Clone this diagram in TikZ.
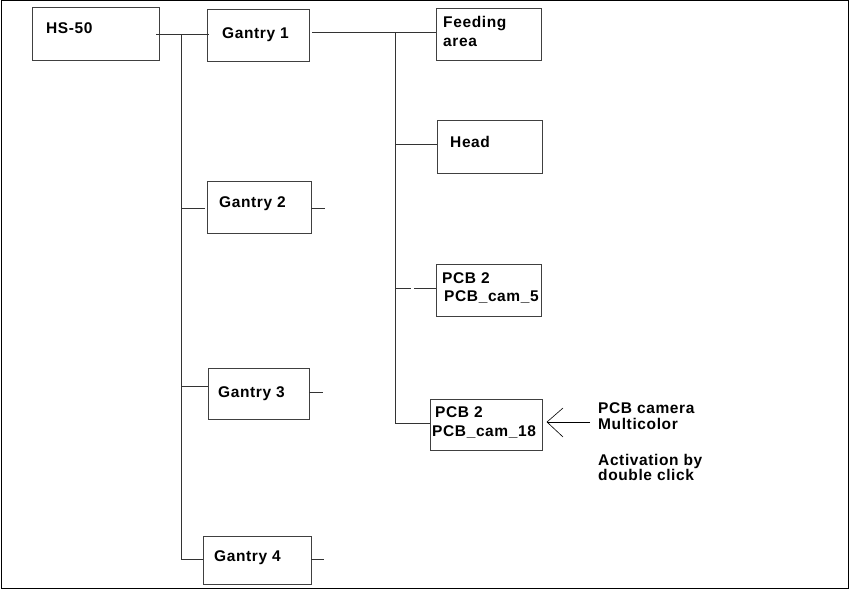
\documentclass[tikz,border=0pt]{standalone}
\usepackage{fontspec}
\setmainfont{Liberation Sans}[LetterSpace=4]
\begin{document}
\begin{tikzpicture}[x=1pt,y=-1pt,
  box/.style={draw=black!75,line width=1pt},
  lbl/.style={anchor=base west,inner sep=0pt,font=\fontsize{15.5pt}{17pt}\selectfont\bfseries},
  ln/.style={draw=black!80,line width=1pt}]
\useasboundingbox (0,0) rectangle (851,591);
\draw[line width=1pt] (1,1) rectangle (848,588);
% boxes
\draw[box] (32,8) rectangle (159,61) coordinate (hsR);
\node[lbl] (hs) at (46,34) {HS-50};
\draw[box] (207,10) rectangle (309,62);
\node[lbl] (g1) at (222,39) {Gantry 1};
\draw[box] (207,181) rectangle (311,233);
\node[lbl] (g2) at (219,207) {Gantry 2};
\draw[box] (208,368) rectangle (309,419);
\node[lbl] (g3) at (218,397) {Gantry 3};
\draw[box] (203,536) rectangle (311,584);
\node[lbl] (g4) at (214,561) {Gantry 4};
\draw[box] (436,9) rectangle (541,61);
\node[lbl] (fa1) at (443,28) {Feeding};
\node[lbl] (fa2) at (443,47) {area};
\draw[box] (437,121) rectangle (542,173);
\node[lbl] (hd) at (450,147) {Head};
\draw[box] (436,264) rectangle (541,316);
\node[lbl] (p5a) at (442,283) {PCB 2};
\node[lbl] (p5b) at (444,301) {PCB\_cam\_5};
\draw[box] (430,399) rectangle (542,450);
\node[lbl] (p18a) at (435,417) {PCB 2};
\node[lbl] (p18b) at (432,436) {PCB\_cam\_18};
\node[lbl] (t1) at (598,413) {PCB camera};
\node[lbl] (t2) at (598,429) {Multicolor};
\node[lbl] (t3) at (598,465) {Activation by};
\node[lbl] (t4) at (598,480) {double click};
% coordinates
\coordinate (a0) at (156,35);
\coordinate (a1) at (209,35);
\coordinate (tk) at (181,35);
\coordinate (tkb) at (181,559);
\coordinate (b0) at (312,33);
\coordinate (b1) at (436,33);
\coordinate (vk) at (395,33);
\coordinate (vkb) at (395,423);
% trunk
\draw[ln] (a0) -- (a1);
\draw[ln] (tk) -- (tkb);
\draw[ln] (181,208) -- (205,208);
\draw[ln] (181,386) -- (208,386);
\draw[ln] (181,559) -- (203,559);
\draw[ln] (311,208) -- (325,208);
\draw[ln] (309,392) -- (323,392);
\draw[ln] (311,559) -- (324,559);
% second trunk
\draw[ln] (b0) -- (b1);
\draw[ln] (vk) -- (vkb);
\draw[ln] (395,145) -- (437,145);
\draw[ln] (395,288) -- (411,288);
\draw[ln] (414,288) -- (436,288);
\draw[ln] (395,423) -- (430,423);
% arrow
\coordinate (tip) at (547,422);
\draw[line width=0.6pt] (590,422) -- (tip);
\draw[line width=0.6pt] (563,408) -- (tip) -- (563,437);
\end{tikzpicture}
\end{document}
